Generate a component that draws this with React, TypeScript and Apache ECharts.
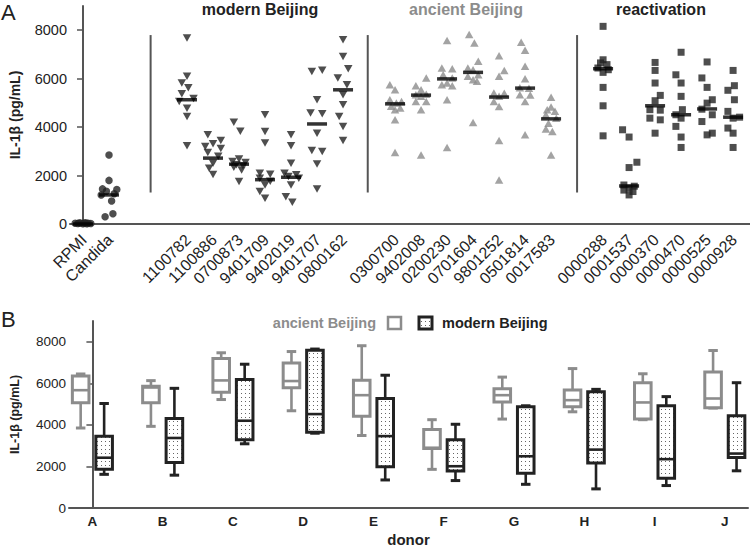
import React, { useEffect, useRef } from 'react';
import * as echarts from 'echarts';

// ---------- Panel A data ----------
const controlLabels = ['RPMI', 'Candida'];
// [x-jitter, IL-1β pg/mL]
const controlPoints = [
  [[-0.3, 30], [-0.2, 20], [-0.1, 40], [0, 10], [0.1, 50], [0.2, 30], [0.3, 20], [-0.15, 40], [0.15, 10], [0.05, 30]],
  [[0, 2850], [0, 1800], [-0.25, 1450], [0.3, 1420], [-0.1, 1350], [0.2, 1250], [-0.3, 1200], [0.1, 950], [0.15, 420], [-0.15, 300]],
];
const controlMedians = [0, 1200];

const modernStrains = ['1100782', '1100886', '0700873', '9401709', '9402019', '9401707', '0800162'];
const modernPoints = [
  [[0, 7680], [0, 6100], [-0.2, 5820], [0.05, 5620], [-0.2, 5380], [0.25, 5180], [-0.3, 5060], [0, 4780], [0, 4440], [0, 3230]],
  [[-0.2, 3680], [0.3, 3450], [0, 3310], [-0.3, 3200], [0.3, 3120], [-0.2, 2950], [0.2, 2800], [0, 2510], [-0.15, 2300], [0, 2040]],
  [[-0.2, 4200], [0.05, 3830], [0, 2680], [-0.25, 2580], [0.25, 2540], [-0.1, 2450], [0.15, 2400], [-0.2, 2340], [0.1, 2230], [0, 1750]],
  [[0, 4510], [0, 3820], [0, 3340], [-0.2, 2100], [0.2, 2050], [-0.2, 1890], [0.2, 1760], [0, 1610], [-0.2, 1340], [0, 1060]],
  [[0, 3680], [0, 3230], [0, 2510], [-0.25, 2100], [0.2, 2030], [-0.1, 1960], [0.3, 1890], [0, 1610], [-0.2, 1130], [0.05, 900]],
  [[-0.2, 6300], [0.2, 6350], [0, 5130], [-0.25, 4580], [0.2, 4550], [0, 3750], [-0.2, 3030], [0.2, 2990], [0, 2480], [0, 1450]],
  [[0, 7610], [0, 6920], [0.2, 6410], [-0.2, 6030], [0.15, 5750], [0, 5340], [0, 4920], [-0.15, 4440], [0, 4030], [0, 3450]],
];
const modernMedians = [5130, 2720, 2470, 1830, 1930, 4130, 5540];

const ancientStrains = ['0300700', '9402008', '0200230', '0701604', '9801252', '0501814', '0017583'];
const ancientPoints = [
  [[-0.2, 5750], [0, 5540], [-0.2, 5130], [0.25, 5060], [0.05, 5000], [-0.15, 4860], [0.2, 4790], [0, 4720], [0, 4300], [0, 2950]],
  [[0.2, 6030], [-0.2, 5710], [0, 5540], [-0.2, 5340], [0.2, 5360], [0, 5270], [-0.2, 5060], [0.2, 5060], [0, 4720], [0, 2850]],
  [[0, 7580], [-0.2, 6440], [0.2, 6410], [-0.15, 6160], [0.2, 6030], [0, 5820], [-0.2, 5750], [0.2, 5710], [0, 5130], [0, 3160]],
  [[-0.15, 7820], [0.05, 7470], [0.2, 6720], [-0.2, 6440], [0, 6370], [0.2, 6160], [-0.2, 6100], [0, 5960], [0.15, 5890], [0, 4190]],
  [[0, 6950], [0.2, 6340], [0, 6100], [-0.2, 5410], [0.2, 5400], [0, 5270], [-0.2, 5060], [0, 4850], [0, 3450], [0, 1820]],
  [[-0.15, 7500], [0, 7170], [0, 6510], [0, 6000], [-0.2, 5620], [0.15, 5600], [-0.2, 5340], [0.2, 5330], [0, 5060], [0, 3680]],
  [[0, 5230], [0, 4830], [-0.15, 4720], [0.15, 4650], [-0.2, 4510], [0.2, 4370], [-0.1, 4160], [-0.2, 3920], [0.05, 3820], [0, 2850]],
];
const ancientMedians = [4960, 5320, 5990, 6260, 5240, 5610, 4340];

const reactStrains = ['0000288', '0001537', '0000370', '0000470', '0000525', '0000928'];
const reactPoints = [
  [[0, 8160], [0, 6780], [-0.1, 6650], [0.15, 6580], [-0.2, 6440], [0.2, 6370], [0, 6260], [0, 5640], [0, 4880], [0, 3640]],
  [[-0.25, 3890], [0, 3590], [0.3, 2550], [0, 2330], [-0.2, 1610], [0.2, 1560], [0, 1480], [-0.2, 1400], [0.15, 1340], [0, 1200]],
  [[0, 6670], [0, 6340], [0, 5820], [0.2, 5310], [0, 5090], [-0.2, 4720], [0.2, 4700], [-0.2, 4370], [0.2, 4300], [0, 3750]],
  [[0, 7090], [-0.2, 6160], [0, 5820], [0, 5270], [0.05, 4720], [-0.2, 4510], [0, 4370], [-0.2, 4030], [0, 3590], [0, 3160]],
  [[0, 6690], [-0.2, 6030], [0, 5640], [0.2, 5130], [0, 4990], [-0.2, 4740], [0.2, 4510], [-0.2, 4230], [0.2, 3750], [0, 3680]],
  [[0, 6340], [0.05, 5710], [-0.2, 5520], [0.05, 5130], [-0.2, 4650], [0, 4370], [0.25, 4410], [-0.2, 3960], [0, 3750], [0, 3160]],
];
const reactMedians = [6410, 1570, 4880, 4510, 4750, 4410];

const yTicks = [0, 2000, 4000, 6000, 8000];

// ---------- Panel B data ----------
const donors = ['A', 'B', 'C', 'D', 'E', 'F', 'G', 'H', 'I', 'J'];
// [min, Q1, median, Q3, max]
const ancientBox = [
  [3850, 5060, 5670, 6350, 6450],
  [3930, 5070, 5800, 5860, 6130],
  [5220, 5570, 6140, 7190, 7470],
  [4680, 5790, 6110, 6980, 7530],
  [3490, 4410, 5430, 6150, 7810],
  [1860, 2860, 2900, 3780, 4250],
  [4280, 5100, 5430, 5740, 6300],
  [4630, 4870, 5190, 5680, 6710],
  [4250, 4280, 5080, 6030, 6460],
  [4810, 4830, 5270, 6550, 7580],
];
const modernBox = [
  [1620, 1870, 2420, 3450, 5030],
  [1580, 2190, 3370, 4310, 5760],
  [3090, 3280, 4200, 6180, 6920],
  [3600, 3650, 4520, 7590, 7650],
  [1350, 1990, 3460, 5270, 6390],
  [1320, 1780, 2010, 3280, 4030],
  [1140, 1670, 2490, 4870, 4920],
  [920, 2170, 2810, 5590, 5710],
  [1080, 1430, 2350, 4920, 5360],
  [1790, 2430, 2620, 4440, 6030],
];

// ---------- layout constants ----------
const MODERN_START = 4;
const ANCIENT_START = 12;
const REACT_START = 20;
const LABEL_SHIFT = 0.04;
const SEPARATORS = [2.6, 10.95, 19.0];
const SEP_RANGE = [1300, 7800];
const BOX_OFFSET = 0.167;
const BOX_W = 0.236;
const CAP_W = 0.135;

const FONT = "'Liberation Sans', Arial, Helvetica, sans-serif";
const DARK = '#222222';
const GREY = '#8c8c8c';
const AXIS = '#555555';

export default function App() {
  const ref = useRef<HTMLDivElement>(null);

  useEffect(() => {
    if (!ref.current) return;
    const chart = echarts.init(ref.current, null, { renderer: 'svg' });

    const canvas = document.createElement('canvas');
    canvas.width = 4;
    canvas.height = 4;
    const ctx = canvas.getContext('2d')!;
    ctx.fillStyle = '#ffffff';
    ctx.fillRect(0, 0, 4, 4);
    ctx.fillStyle = '#666666';
    ctx.fillRect(1, 1, 1, 1);
    const dots: any = { image: canvas, repeat: 'repeat', imageWidth: 4, imageHeight: 4 };

    const toPoints = (groups: number[][][], start: number) =>
      groups.flatMap((g, gi) => g.map(([dx, v]) => [start + gi + dx, v]));

    const labelAt: Record<number, string> = {};
    controlLabels.forEach((n, i) => (labelAt[i] = n));
    modernStrains.forEach((n, i) => (labelAt[MODERN_START + i] = n));
    ancientStrains.forEach((n, i) => (labelAt[ANCIENT_START + i] = n));
    reactStrains.forEach((n, i) => (labelAt[REACT_START + i] = n));
    const labelPositions = Object.keys(labelAt).map((k) => Number(k) + LABEL_SHIFT);

    const medianPoints = [
      ...controlMedians.map((m, i) => [i, m]),
      ...modernMedians.map((m, i) => [MODERN_START + i, m]),
      ...ancientMedians.map((m, i) => [ANCIENT_START + i, m]),
      ...reactMedians.map((m, i) => [REACT_START + i, m]),
    ];

    const boxRender = (offset: number, stroke: string, fill: any) => (params: any, api: any) => {
      const x = api.value(0) + offset;
      const pMin = api.coord([x, api.value(1)]);
      const cx = pMin[0];
      const yMin = pMin[1];
      const yQ1 = api.coord([x, api.value(2)])[1];
      const yMed = api.coord([x, api.value(3)])[1];
      const yQ3 = api.coord([x, api.value(4)])[1];
      const yMax = api.coord([x, api.value(5)])[1];
      const w = api.size([BOX_W, 0])[0];
      const cap = api.size([CAP_W, 0])[0];
      const ls = { stroke, lineWidth: 2.6 };
      return {
        type: 'group',
        children: [
          { type: 'line', shape: { x1: cx, y1: yMax, x2: cx, y2: yQ3 }, style: ls },
          { type: 'line', shape: { x1: cx, y1: yQ1, x2: cx, y2: yMin }, style: ls },
          { type: 'line', shape: { x1: cx - cap / 2, y1: yMax, x2: cx + cap / 2, y2: yMax }, style: { stroke, lineWidth: 3 } },
          { type: 'line', shape: { x1: cx - cap / 2, y1: yMin, x2: cx + cap / 2, y2: yMin }, style: { stroke, lineWidth: 3 } },
          {
            type: 'rect',
            shape: { x: cx - w / 2, y: yQ3, width: w, height: yQ1 - yQ3 },
            style: { fill, stroke, lineWidth: 3 },
          },
          { type: 'line', shape: { x1: cx - w / 2, y1: yMed, x2: cx + w / 2, y2: yMed }, style: { stroke, lineWidth: 2.6 } },
        ],
      };
    };

    const yAxisBase = (fontSize: number, nameSize: number, nameGap: number) => ({
      type: 'value',
      min: 0,
      max: 9000,
      name: 'IL-1β (pg/mL)',
      nameLocation: 'middle',
      nameGap,
      nameTextStyle: { fontFamily: FONT, fontWeight: 'bold', fontSize: nameSize, color: DARK },
      axisLine: { show: true, lineStyle: { color: AXIS, width: 2 } },
      axisTick: { show: true, length: 6, customValues: yTicks, lineStyle: { color: AXIS, width: 1.5 } },
      axisLabel: {
        customValues: yTicks,
        formatter: (v: number) => String(v),
        fontFamily: FONT,
        fontSize,
        color: DARK,
        margin: 3,
      },
      splitLine: { show: false },
    });

    const option: any = {
      animation: false,
      backgroundColor: '#ffffff',
      textStyle: { fontFamily: FONT },
      grid: [
        { left: 64, top: 6, width: 686, height: 218 },
        { left: 66, top: 321, width: 682, height: 189 },
      ],
      xAxis: [
        {
          type: 'value',
          gridIndex: 0,
          min: -0.5,
          max: 25.65,
          axisLine: { show: true, onZero: false, lineStyle: { color: AXIS, width: 2 } },
          axisTick: { show: false },
          splitLine: { show: false },
          axisLabel: {
            customValues: labelPositions,
            formatter: (v: number) => labelAt[Math.round(v)] ?? '',
            rotate: 45,
            fontFamily: FONT,
            fontSize: 16,
            color: DARK,
            margin: 13,
          },
        },
        {
          type: 'value',
          gridIndex: 1,
          min: -0.333,
          max: 9.33,
          name: 'donor',
          nameLocation: 'middle',
          nameGap: 24,
          nameTextStyle: { fontFamily: FONT, fontWeight: 'bold', fontSize: 15, color: DARK },
          axisLine: { show: true, onZero: false, lineStyle: { color: AXIS, width: 2 } },
          axisTick: { show: false },
          splitLine: { show: false },
          axisLabel: {
            customValues: donors.map((_, i) => i),
            formatter: (v: number) => donors[Math.round(v)] ?? '',
            fontFamily: FONT,
            fontWeight: 'bold',
            fontSize: 13.5,
            color: DARK,
            margin: 6,
          },
        },
      ],
      yAxis: [
        { ...yAxisBase(14.5, 14, 48), gridIndex: 0 },
        { ...yAxisBase(13.5, 12.5, 48), gridIndex: 1 },
      ],
      series: [
        ...SEPARATORS.map((x) => ({
          type: 'line',
          xAxisIndex: 0,
          yAxisIndex: 0,
          data: [[x, SEP_RANGE[0]], [x, SEP_RANGE[1]]],
          symbol: 'none',
          lineStyle: { color: AXIS, width: 2 },
          silent: true,
        })),
        {
          type: 'scatter',
          xAxisIndex: 0,
          yAxisIndex: 0,
          data: toPoints(controlPoints, 0),
          symbol: 'circle',
          symbolSize: 7.5,
          itemStyle: { color: DARK },
        },
        {
          type: 'scatter',
          xAxisIndex: 0,
          yAxisIndex: 0,
          data: toPoints(modernPoints, MODERN_START),
          symbol: 'triangle',
          symbolRotate: 180,
          symbolSize: [8.5, 7.5],
          itemStyle: { color: DARK },
        },
        {
          type: 'scatter',
          xAxisIndex: 0,
          yAxisIndex: 0,
          data: toPoints(ancientPoints, ANCIENT_START),
          symbol: 'triangle',
          symbolSize: [8.5, 7.5],
          itemStyle: { color: GREY },
        },
        {
          type: 'scatter',
          xAxisIndex: 0,
          yAxisIndex: 0,
          data: toPoints(reactPoints, REACT_START),
          symbol: 'rect',
          symbolSize: 7,
          itemStyle: { color: DARK },
        },
        {
          type: 'scatter',
          xAxisIndex: 0,
          yAxisIndex: 0,
          data: medianPoints,
          symbol: 'rect',
          symbolSize: [20, 3.5],
          itemStyle: { color: '#000000' },
          z: 5,
        },
        {
          type: 'custom',
          xAxisIndex: 1,
          yAxisIndex: 1,
          data: ancientBox.map((b, i) => [i, ...b]),
          encode: { x: 0, y: [1, 2, 3, 4, 5] },
          renderItem: boxRender(-BOX_OFFSET, GREY, '#ffffff'),
        },
        {
          type: 'custom',
          xAxisIndex: 1,
          yAxisIndex: 1,
          data: modernBox.map((b, i) => [i, ...b]),
          encode: { x: 0, y: [1, 2, 3, 4, 5] },
          renderItem: boxRender(BOX_OFFSET, DARK, dots),
        },
      ],
      graphic: [
        { type: 'text', left: 1, top: 1, style: { text: 'A', fontFamily: FONT, fontSize: 22, fill: DARK } },
        { type: 'text', left: 1, top: 308, style: { text: 'B', fontFamily: FONT, fontSize: 22, fill: DARK } },
        {
          type: 'text', x: 260, y: 9,
          style: { text: 'modern Beijing', fontFamily: FONT, fontWeight: 'bold', fontSize: 16, fill: DARK, align: 'center', verticalAlign: 'middle' },
        },
        {
          type: 'text', x: 466, y: 9,
          style: { text: 'ancient Beijing', fontFamily: FONT, fontWeight: 'bold', fontSize: 16, fill: GREY, align: 'center', verticalAlign: 'middle' },
        },
        {
          type: 'text', x: 661, y: 9,
          style: { text: 'reactivation', fontFamily: FONT, fontWeight: 'bold', fontSize: 16, fill: DARK, align: 'center', verticalAlign: 'middle' },
        },
        {
          type: 'text', x: 376, y: 323,
          style: { text: 'ancient Beijing', fontFamily: FONT, fontWeight: 'bold', fontSize: 14.5, fill: GREY, align: 'right', verticalAlign: 'middle' },
        },
        {
          type: 'rect', shape: { x: 388, y: 317, width: 13, height: 12 },
          style: { fill: '#ffffff', stroke: GREY, lineWidth: 2.5 },
        },
        {
          type: 'rect', shape: { x: 419, y: 317, width: 13, height: 12 },
          style: { fill: dots, stroke: DARK, lineWidth: 3 },
        },
        {
          type: 'text', x: 442, y: 323,
          style: { text: 'modern Beijing', fontFamily: FONT, fontWeight: 'bold', fontSize: 14.5, fill: DARK, align: 'left', verticalAlign: 'middle' },
        },
      ],
    };

    chart.setOption(option);
    return () => chart.dispose();
  }, []);

  return (
    <div
      ref={ref}
      style={{ position: 'fixed', left: 0, top: 0, width: 750, height: 548, background: '#ffffff' }}
    />
  );
}
